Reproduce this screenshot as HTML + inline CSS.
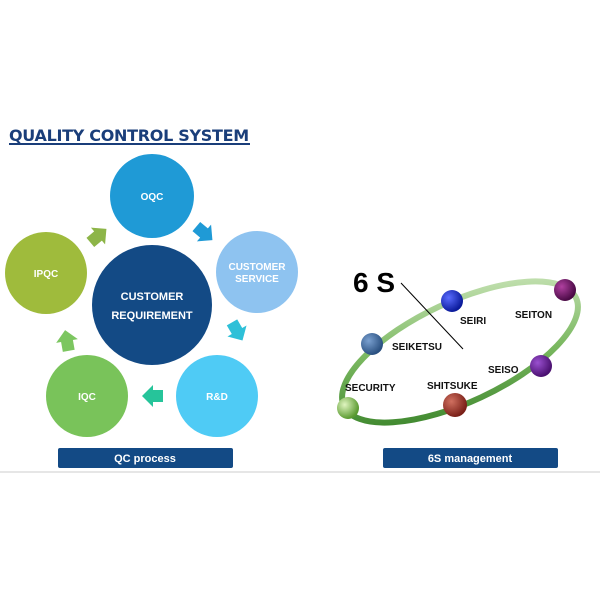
<!DOCTYPE html>
<html><head><style>
body{margin:0;width:600px;height:600px;background:#fff;overflow:hidden;font-family:"Liberation Sans",sans-serif}
</style></head><body>
<svg width="600" height="600" xmlns="http://www.w3.org/2000/svg" font-family="Liberation Sans, sans-serif" font-weight="bold">
<defs>
<radialGradient id="g1" cx="35%" cy="35%" r="65%"><stop offset="0" stop-color="#5a6cff"/><stop offset="1" stop-color="#0a1a9a"/></radialGradient>
<radialGradient id="g2" cx="35%" cy="35%" r="65%"><stop offset="0" stop-color="#b040a0"/><stop offset="1" stop-color="#4a0a45"/></radialGradient>
<radialGradient id="g3" cx="35%" cy="35%" r="65%"><stop offset="0" stop-color="#7aa0d0"/><stop offset="1" stop-color="#2a5080"/></radialGradient>
<radialGradient id="g4" cx="35%" cy="35%" r="65%"><stop offset="0" stop-color="#9a50d0"/><stop offset="1" stop-color="#4a1070"/></radialGradient>
<radialGradient id="g5" cx="35%" cy="35%" r="65%"><stop offset="0" stop-color="#d07060"/><stop offset="1" stop-color="#7a2018"/></radialGradient>
<radialGradient id="g6" cx="35%" cy="35%" r="65%"><stop offset="0" stop-color="#e0f5c0"/><stop offset="1" stop-color="#5a9a30"/></radialGradient>
<linearGradient id="ring" x1="0" y1="1" x2="1" y2="0"><stop offset="0" stop-color="#2e7a20"/><stop offset="0.5" stop-color="#7ab860"/><stop offset="1" stop-color="#d8ecc8"/></linearGradient>
<polygon id="arr" points="-10,-6 0,-6 0,-11 11,0 0,11 0,6 -10,6"/>
</defs>
<text x="9" y="141" font-size="16" fill="#1a3e7a" font-family="DejaVu Sans, sans-serif" letter-spacing="-0.3">QUALITY CONTROL SYSTEM</text>
<rect x="9" y="143" width="241" height="2" fill="#1a3e7a"/>
<use href="#arr" transform="translate(98,236) rotate(-40)" fill="#8db548"/>
<use href="#arr" transform="translate(204,233) rotate(40)" fill="#1f9ad6"/>
<use href="#arr" transform="translate(237,331) rotate(60)" fill="#2ec0d8"/>
<use href="#arr" transform="translate(153,396) rotate(180)" fill="#26c49a"/>
<use href="#arr" transform="translate(67,341) rotate(-100)" fill="#7cc660"/>
<circle cx="152" cy="196" r="42" fill="#1f9ad6"/>
<circle cx="257" cy="272" r="41" fill="#8ec3f0"/>
<circle cx="46" cy="273" r="41" fill="#9fbb3c"/>
<circle cx="87" cy="396" r="41" fill="#79c35a"/>
<circle cx="217" cy="396" r="41" fill="#4fcbf5"/>
<circle cx="152" cy="305" r="60" fill="#134a85"/>
<g fill="#fff" font-size="10" text-anchor="middle">
<text x="152" y="200">OQC</text>
<text x="257" y="270">CUSTOMER</text><text x="257" y="282">SERVICE</text>
<text x="46" y="277">IPQC</text>
<text x="87" y="400">IQC</text>
<text x="217" y="400">R&amp;D</text>
<text x="152" y="300" font-size="11">CUSTOMER</text><text x="152" y="319" font-size="11">REQUIREMENT</text>
</g>
<rect x="58" y="448" width="175" height="20" rx="2" fill="#134a85"/>
<text x="145" y="462" fill="#fff" font-size="11" text-anchor="middle">QC process</text>
<rect x="383" y="448" width="175" height="20" rx="2" fill="#134a85"/>
<text x="470" y="462" fill="#fff" font-size="11" text-anchor="middle">6S management</text>
<line x1="0" y1="472" x2="600" y2="472" stroke="#e6e6e6" stroke-width="2"/>
<ellipse cx="460" cy="352" rx="128" ry="50" transform="rotate(-25 460 352)" fill="none" stroke="url(#ring)" stroke-width="6"/>
<text x="353" y="292" font-size="28" fill="#000">6 S</text>
<line x1="401" y1="283" x2="463" y2="349" stroke="#000" stroke-width="1"/>
<circle cx="452" cy="301" r="11" fill="url(#g1)"/>
<circle cx="565" cy="290" r="11" fill="url(#g2)"/>
<circle cx="372" cy="344" r="11" fill="url(#g3)"/>
<circle cx="541" cy="366" r="11" fill="url(#g4)"/>
<circle cx="455" cy="405" r="12" fill="url(#g5)"/>
<circle cx="348" cy="408" r="11" fill="url(#g6)"/>
<g font-size="10" fill="#111">
<text x="460" y="324">SEIRI</text>
<text x="515" y="318">SEITON</text>
<text x="392" y="350">SEIKETSU</text>
<text x="488" y="373">SEISO</text>
<text x="427" y="389">SHITSUKE</text>
<text x="345" y="391">SECURITY</text>
</g>
</svg>
</body></html>
